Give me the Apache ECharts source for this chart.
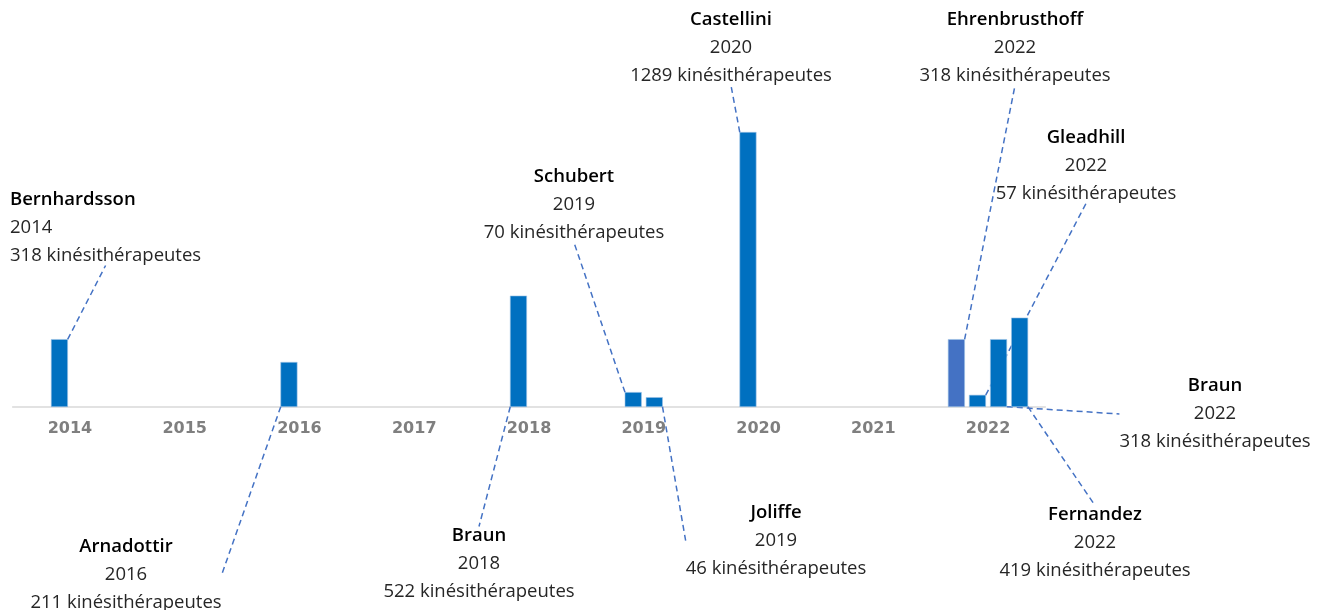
<!DOCTYPE html>
<html>
<head>
<meta charset="utf-8">
<script src="https://cdn.jsdelivr.net/npm/echarts@6/dist/echarts.min.js"></script>
<style>html,body{margin:0;padding:0;background:#fff;}#c{width:1329px;height:610px;}</style>
</head>
<body>
<div id="c"></div>
<script>
// Categories
var years = ['2014', '2015', '2016', '2017', '2018', '2019', '2020', '2021', '2022'];
// Values per slot (Excel cluster position) for each year
var slot0Values = [null, null, null, null, null, null, null, null, 318];
var slot1Values = [318, null, 211, null, 522, 70, 1289, null, 57];
var slot2Values = [null, null, null, null, null, 46, null, null, 318];
var slot3Values = [null, null, null, null, null, null, null, null, 419];
// Names per slot
var slot0Names = [null, null, null, null, null, null, null, null, 'Ehrenbrusthoff'];
var slot1Names = ['Bernhardsson', null, 'Arnadottir', null, 'Braun', 'Schubert', 'Castellini', null, 'Gleadhill'];
var slot2Names = [null, null, null, null, null, 'Joliffe', null, null, 'Braun'];
var slot3Names = [null, null, null, null, null, null, null, null, 'Fernandez'];
var unitText = 'kinésithérapeutes';

// Label placement (annotation layout): x, and y of the first text line centre
var labelPlace = {
  '1-0': {x: 10, y: 200, align: 'left'},
  '1-2': {x: 126, y: 547, align: 'center'},
  '1-4': {x: 479, y: 536, align: 'center'},
  '1-5': {x: 574, y: 177, align: 'center'},
  '2-5': {x: 776, y: 513, align: 'center'},
  '1-6': {x: 731, y: 20, align: 'center'},
  '0-8': {x: 1015, y: 20, align: 'center'},
  '1-8': {x: 1086, y: 138, align: 'center'},
  '2-8': {x: 1215, y: 386, align: 'center'},
  '3-8': {x: 1095, y: 515, align: 'center'}
};

var valuesBySlot = [slot0Values, slot1Values, slot2Values, slot3Values];
var namesBySlot = [slot0Names, slot1Names, slot2Names, slot3Names];
var colors = ['#4472C4', '#0070C0', '#0070C0', '#0070C0'];

var txtFont = "'Open Sans', sans-serif";
var LH = 28, PAD = 6;

var series = valuesBySlot.map(function (vals, s) {
  return {
    type: 'bar',
    data: vals,
    barWidth: 17,
    barGap: '24%',
    itemStyle: {color: colors[s], borderColor: '#9dc3e6', borderWidth: 0.6},
    label: {
      show: true,
      formatter: function (p) {
        var nm = namesBySlot[s][p.dataIndex];
        return '{n|' + nm + '}\n{t|' + years[p.dataIndex] + '}\n{t|' + p.value + ' ' + unitText + '}';
      },
      padding: [PAD, PAD],
      rich: {
        n: {fontFamily: txtFont, fontSize: 18.5, fontWeight: 600, color: '#000', lineHeight: LH},
        t: {fontFamily: txtFont, fontSize: 18.5, color: '#262626', lineHeight: LH}
      }
    },
    labelLine: {
      show: true,
      lineStyle: {color: '#4472C4', width: 1.5, type: [6, 4]}
    },
    labelLayout: function (p) {
      var pl = labelPlace[s + '-' + p.dataIndex];
      if (!pl) return {};
      var x = pl.align === 'left' ? pl.x - PAD : pl.x;
      return {x: x, y: pl.y - LH / 2 - PAD, align: pl.align, verticalAlign: 'top'};
    }
  };
});

var chart = echarts.init(document.getElementById('c'));
chart.setOption({
  animation: false,
  grid: {left: 12.6, right: 283.6, top: 132, bottom: 203, containLabel: false},
  xAxis: {
    type: 'category',
    data: years,
    axisLine: {lineStyle: {color: '#d9d9d9', width: 1.5}},
    axisTick: {show: false},
    axisLabel: {fontFamily: 'DejaVu Sans', fontWeight: 'bold', fontSize: 16, color: '#7f7f7f', margin: 14}
  },
  yAxis: {
    type: 'value', min: 0, max: 1289,
    show: false,
    splitLine: {show: false}
  },
  series: series
});
</script>
</body>
</html>
